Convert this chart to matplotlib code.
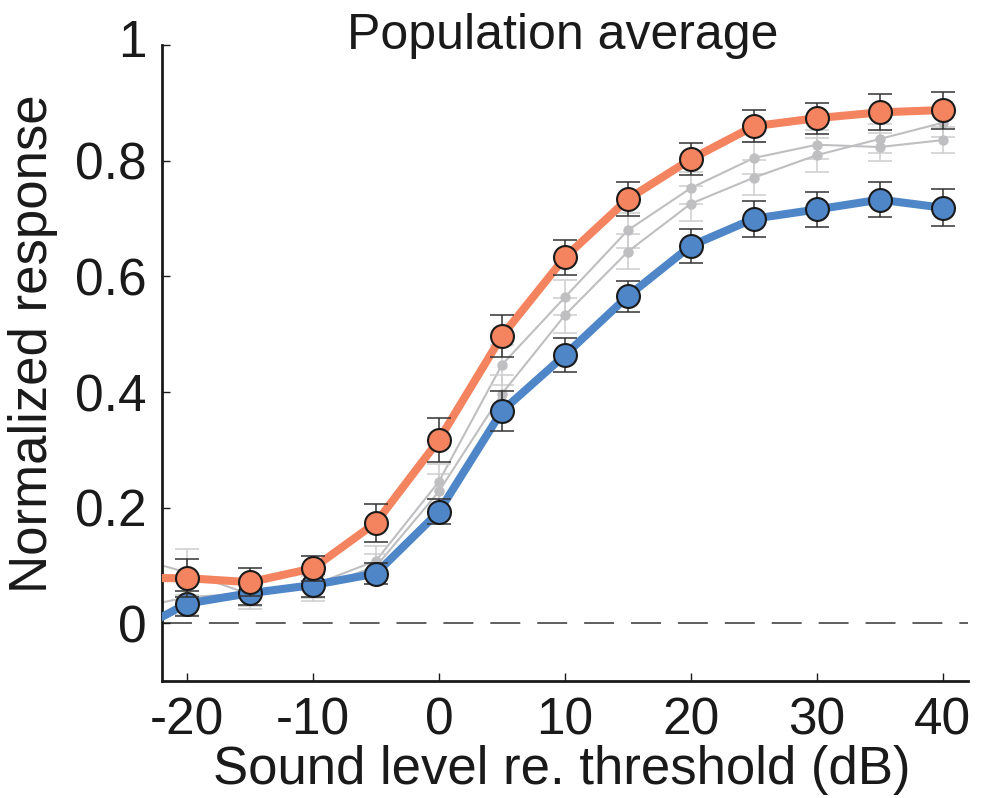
import matplotlib
matplotlib.use("Agg")
import matplotlib.pyplot as plt
import matplotlib.transforms as mtransforms

plt.rcParams['font.family'] = ['Liberation Sans', 'DejaVu Sans']

# sound level (dB re. threshold)
levels = [-20, -15, -10, -5, 0, 5, 10, 15, 20, 25, 30, 35, 40]
# lines run on past the left edge of the axes
edge_level = -25

orange = [0.078, 0.071, 0.095, 0.174, 0.317, 0.497, 0.633, 0.734, 0.803, 0.860, 0.874, 0.884, 0.888]
orange_err = [0.033, 0.024, 0.022, 0.033, 0.038, 0.036, 0.030, 0.030, 0.028, 0.028, 0.027, 0.031, 0.032]
orange_edge = 0.078

blue = [0.034, 0.052, 0.066, 0.086, 0.193, 0.367, 0.464, 0.566, 0.653, 0.700, 0.716, 0.733, 0.719]
blue_err = [0.022, 0.020, 0.020, 0.018, 0.022, 0.035, 0.030, 0.027, 0.029, 0.031, 0.031, 0.030, 0.032]
blue_edge = -0.024

grey_a = [0.088, 0.050, 0.066, 0.108, 0.245, 0.447, 0.564, 0.680, 0.753, 0.805, 0.828, 0.824, 0.836]
grey_a_err = [0.040, 0.025, 0.022, 0.025, 0.030, 0.035, 0.030, 0.030, 0.028, 0.028, 0.025, 0.025, 0.022]
grey_a_edge = 0.118

grey_b = [0.045, 0.052, 0.060, 0.098, 0.228, 0.397, 0.533, 0.643, 0.726, 0.771, 0.810, 0.838, 0.866]
grey_b_err = [0.030, 0.022, 0.022, 0.022, 0.030, 0.033, 0.030, 0.030, 0.030, 0.030, 0.030, 0.025, 0.025]
grey_b_edge = 0.022

ORANGE = '#F4845F'
BLUE = '#4E86C8'
GREY = '#BFBFC2'
GREY_ERR = '#CDCDCD'
ERR = '#333333'

fig = plt.figure(figsize=(9.82, 7.98), dpi=100)
ax = fig.add_axes([0.1647, 0.1466, 0.8210, 0.7966])

ax.axhline(0, color='#333333', lw=1.1, linestyle=(0, (19.6, 11.1)), zorder=1)

z = 2
for vals, errs, edge in [(grey_a, grey_a_err, grey_a_edge), (grey_b, grey_b_err, grey_b_edge)]:
    ax.plot([edge_level] + levels, [edge] + vals, color=GREY, lw=1.5, zorder=z)
    ax.errorbar(levels, vals, yerr=errs, fmt='none', ecolor=GREY_ERR, elinewidth=1.1,
                capsize=8.3, capthick=1.1, zorder=z)
    ax.plot(levels, vals, 'o', color=GREY, markersize=7.5, markeredgewidth=0, zorder=z + 0.1)

z = 4
for vals, errs, edge, col in [(blue, blue_err, blue_edge, BLUE), (orange, orange_err, orange_edge, ORANGE)]:
    ax.plot([edge_level] + levels, [edge] + vals, color=col, lw=5.8, zorder=z,
            solid_capstyle='butt')
    ax.errorbar(levels, vals, yerr=errs, fmt='none', ecolor=ERR, elinewidth=1.1,
                capsize=8.3, capthick=1.1, zorder=z + 0.1)
    ax.plot(levels, vals, 'o', markerfacecolor=col, markeredgecolor='#1a1a1a',
            markersize=16.5, markeredgewidth=1.5, zorder=z + 0.2)
    z += 1

ax.set_xlim(-22, 42)
ax.set_ylim(-0.1, 1.0)
ax.set_xticks([-20, -10, 0, 10, 20, 30, 40])
ax.set_xticklabels(['-20', '-10', '0', '10', '20', '30', '40'])
ax.set_yticks([0, 0.2, 0.4, 0.6, 0.8, 1])
ax.set_yticklabels(['0', '0.2', '0.4', '0.6', '0.8', '1'])

for s in ['top', 'right']:
    ax.spines[s].set_visible(False)
for s in ['left', 'bottom']:
    ax.spines[s].set_linewidth(2.0)
    ax.spines[s].set_color('#1a1a1a')
ax.tick_params(direction='in', length=6, width=1.0, labelsize=37, pad=11,
               colors='#1a1a1a')

# the top label sits a little above its tick in the reference
top_label = ax.get_yticklabels()[-1]
top_label.set_transform(top_label.get_transform() +
                        mtransforms.ScaledTranslation(0, 7 / 100, fig.dpi_scale_trans))

fig.text(563 / 982, 1 - 49 / 798, 'Population average', ha='center', va='baseline',
         fontsize=36, color='#1a1a1a')
fig.text(562 / 982, 1 - 784 / 798, 'Sound level re. threshold (dB)', ha='center',
         va='baseline', fontsize=38, color='#1a1a1a')
fig.text(33 / 982, 1 - 344 / 798, 'Normalized response', ha='center', va='center',
         rotation=90, fontsize=38, color='#1a1a1a')

fig.savefig('out.png', dpi=100)
